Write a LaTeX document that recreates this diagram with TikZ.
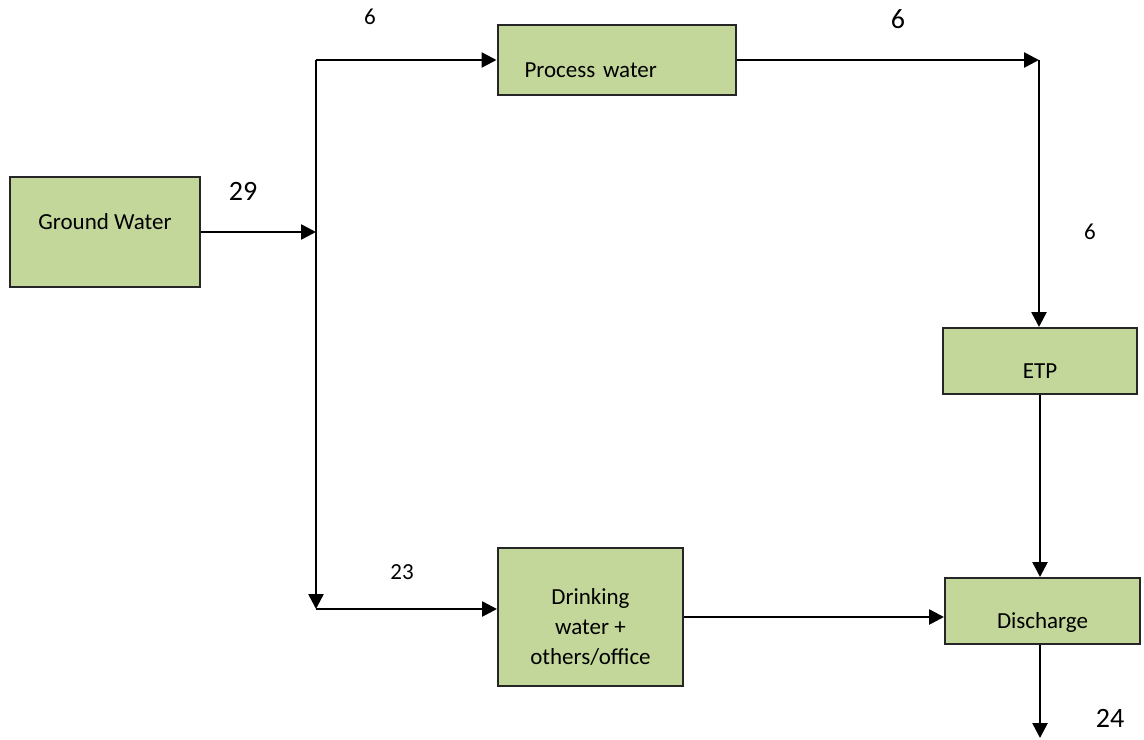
\documentclass[tikz,border=0pt]{standalone}
\usepackage{fontspec}
\setmainfont{Carlito}
\usetikzlibrary{arrows.meta}
\definecolor{boxgreen}{HTML}{C4D79B}

\begin{document}
\begin{tikzpicture}[
    x=0.5pt, y=-0.5pt,
    box/.style={rectangle, draw=black!85, line width=1pt, fill=boxgreen, inner sep=3pt,
                font=\fontsize{11.5}{15}\selectfont, text height=17.6pt, text depth=0pt},
    num/.style={inner sep=0pt, font=\fontsize{11.5}{14}\selectfont},
    bignum/.style={inner sep=0pt, font=\fontsize{14}{17}\selectfont},
    flow/.style={line width=1.3pt, -{Triangle[length=7.5pt, width=7.5pt]}}
]
   \useasboundingbox (0,0) rectangle (1144,739);

   % Boxes
   \node[box, minimum width=95pt, minimum height=55pt, text height=8pt, text depth=10.4pt] (gw) at (105,232) {Ground Water};
   \node[box, minimum height=35pt, text width=92pt, inner xsep=13.5pt, align=left] (pw) at (616.5,60) {Process water};
   \node[box, minimum width=97pt, minimum height=33pt] (etp) at (1040,361) {ETP};
   \node[box, minimum width=92.5pt, minimum height=69pt, align=center, text height=47.6pt, text depth=0pt] (dw) at (590.5,617) {Drinking\\water +\\others/office};
   \node[box, minimum width=97.5pt, minimum height=33pt] (dis) at (1042.5,611) {Discharge};

   % Junctions
   \coordinate (jtop) at (316,60);
   \coordinate (jmid) at (316,232);
   \coordinate (jbot) at (316,609);
   \coordinate (jright) at (1039,60);
   \coordinate (out) at (1040,738);

   % Flows
   \draw[flow] (gw) -- (jmid);
   \draw[flow] (jtop) -- (jbot);
   \draw[flow] (jtop) -- (pw);
   \draw[flow] (jbot) -- (jbot -| dw.west);
   \draw[flow] (pw) -- (jright);
   \draw[flow] (jright) -- (jright |- etp.north);
   \draw[flow] (etp) -- (etp.south |- dis.north);
   \draw[flow] (dw.east) -- (dw.east -| dis.west);
   \draw[flow] (dis.south -| out) -- (out);

   % Quantities
   \node[num] (q6a) at (370,17) {6};
   \node[bignum] (q6b) at (898,19) {6};
   \node[bignum] (q29) at (243,191) {29};
   \node[num] (q6c) at (1090,232) {6};
   \node[num] (q23) at (402,572) {23};
   \node[bignum] (q24) at (1110,718) {24};
\end{tikzpicture}
\end{document}
